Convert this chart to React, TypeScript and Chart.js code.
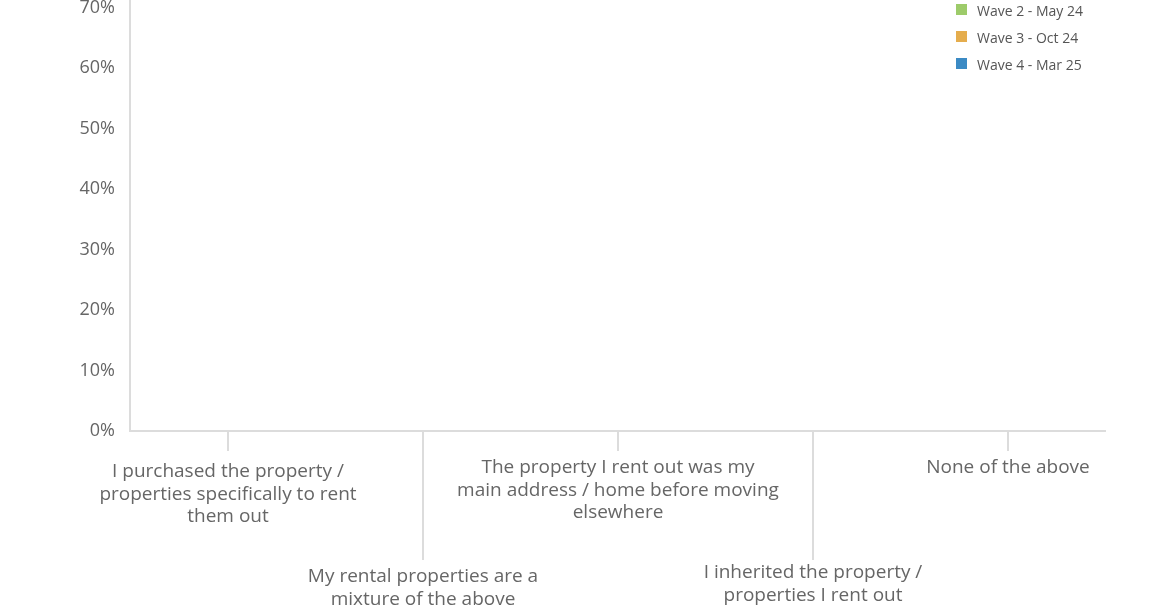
import React, { useEffect, useRef } from 'react';
import { Chart, registerables } from 'chart.js';

Chart.register(...registerables);

// ---- data ----
const categories: string[][] = [
  ['I purchased the property /', 'properties specifically to rent', 'them out'],
  ['My rental properties are a', 'mixture of the above'],
  ['The property I rent out was my', 'main address / home before moving', 'elsewhere'],
  ['I inherited the property /', 'properties I rent out'],
  ['None of the above'],
];
const seriesNames = ['Wave 2 - May 24', 'Wave 3 - Oct 24', 'Wave 4 - Mar 25'];
// No bars are visible in the reference: every value reads as 0
const wave2Values = [0, 0, 0, 0, 0];
const wave3Values = [0, 0, 0, 0, 0];
const wave4Values = [0, 0, 0, 0, 0];
const seriesColors = ['#9dcb6a', '#e5ad4d', '#3b8ac4'];
const yTickValues = [0, 10, 20, 30, 40, 50, 60, 70];

const TEXT = '#666666';
const AXIS = '#dcdcdc';
const FONT = '"Open Sans", "Noto Sans", sans-serif';

const staggeredLabels = {
  id: 'staggeredLabels',
  afterDraw(chart: any) {
    const ctx = chart.ctx;
    const xs = chart.scales.x;
    const bottom = chart.chartArea.bottom;
    ctx.save();
    ctx.strokeStyle = AXIS;
    ctx.lineWidth = 2;
    ctx.fillStyle = TEXT;
    ctx.font = `19px ${FONT}`;
    ctx.textAlign = 'center';
    ctx.textBaseline = 'alphabetic';
    categories.forEach((lines, i) => {
      const x = Math.round(xs.getPixelForValue(i));
      const odd = i % 2 === 1;
      ctx.beginPath();
      ctx.moveTo(x, bottom);
      ctx.lineTo(x, bottom + (odd ? 129 : 20));
      ctx.stroke();
      const nudge = i < 2 ? 4 : 0;
      const base = bottom + (odd ? 147 : 42) + nudge;
      lines.forEach((t, j) => ctx.fillText(t, x, base + j * 22.5));
    });
    ctx.restore();
  },
};

const cornerLegend = {
  id: 'cornerLegend',
  afterDraw(chart: any) {
    const ctx = chart.ctx;
    const right = chart.chartArea.right;
    ctx.save();
    ctx.font = `14px ${FONT}`;
    ctx.textBaseline = 'middle';
    ctx.textAlign = 'left';
    chart.data.datasets.forEach((ds: any, i: number) => {
      const cy = 9.5 + i * 27;
      ctx.fillStyle = ds.backgroundColor;
      ctx.fillRect(right - 149, cy - 5.5, 11, 11);
      ctx.fillStyle = '#555555';
      ctx.fillText(ds.label, right - 128, cy + 3);
    });
    ctx.restore();
  },
};

export default function App() {
  const ref = useRef<HTMLCanvasElement | null>(null);

  useEffect(() => {
    if (!ref.current) return;
    const values = [wave2Values, wave3Values, wave4Values];
    const chart = new Chart(ref.current, {
      type: 'bar',
      data: {
        labels: categories,
        datasets: seriesNames.map((name, i) => ({
          label: name,
          data: values[i],
          backgroundColor: seriesColors[i],
          borderWidth: 0,
        })),
      },
      options: {
        animation: false,
        responsive: true,
        maintainAspectRatio: false,
        layout: { padding: { top: 0, right: 65, bottom: 175, left: 0 } },
        plugins: {
          legend: { display: false },
          tooltip: { enabled: false },
        },
        scales: {
          x: {
            grid: { display: false, drawTicks: false },
            border: { display: true, color: AXIS, width: 2 },
            ticks: { display: false },
          },
          y: {
            min: 0,
            max: 71.3,
            grid: { display: false, drawTicks: false },
            border: { display: true, color: AXIS, width: 2 },
            afterBuildTicks: (scale: any) => {
              scale.ticks = yTickValues.map((v) => ({ value: v }));
            },
            afterFit: (scale: any) => {
              scale.width = 130;
              scale.paddingTop = 0;
              scale.paddingBottom = 0;
            },
            ticks: {
              padding: 15,
              color: TEXT,
              font: { family: FONT, size: 18 },
              callback: (v: any) => `${v}%`,
            },
          },
        },
      },
      plugins: [staggeredLabels, cornerLegend],
    });
    return () => chart.destroy();
  }, []);

  return (
    <div style={{ position: 'absolute', left: 0, top: 0, width: 1170, height: 606, background: '#fff' }}>
      <canvas ref={ref} />
    </div>
  );
}
